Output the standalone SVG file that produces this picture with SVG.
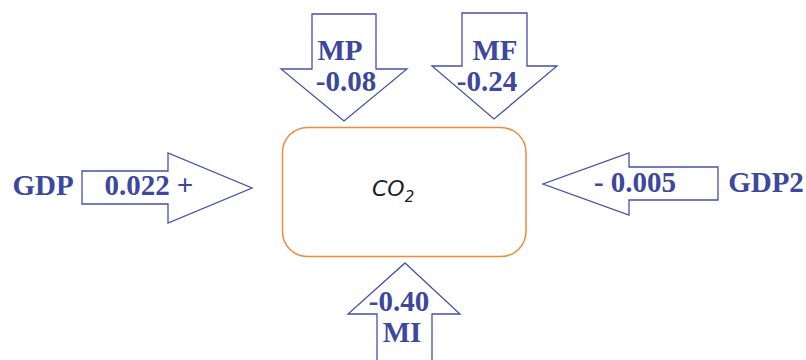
<svg xmlns="http://www.w3.org/2000/svg" width="806" height="360" viewBox="0 0 806 360">
<style>
.arr{fill:#ffffff;stroke:#4650a8;stroke-width:1.3;stroke-linejoin:miter}
.lbl{font-family:"Liberation Serif","Times New Roman",serif;font-weight:bold;font-size:29px;fill:#3c479e;text-anchor:middle}
.box{fill:#ffffff;stroke:#f08a3c;stroke-width:1.5}
.co2{font-family:"DejaVu Sans","Noto Sans",sans-serif;font-style:italic;font-size:22px;fill:#1c1c2c}
</style>
<rect width="806" height="360" fill="#ffffff"/>
<g id="connectors">
  <g id="arrow-mp">
    <polygon class="arr" points="312,14 376,14 376,69 407,69 344,121 281,69 312,69"/>
    <text class="lbl" x="340" y="60">MP</text>
    <text class="lbl" x="346" y="91">-0.08</text>
  </g>
  <g id="arrow-mf">
    <polygon class="arr" points="462,13 527,13 527,66 557,66 494,119 432,66 462,66"/>
    <text class="lbl" x="495" y="60">MF</text>
    <text class="lbl" x="487" y="91">-0.24</text>
  </g>
  <g id="arrow-gdp">
    <polygon class="arr" points="82,171 168,171 168,153 252,188 168,223 168,204 82,204"/>
    <text class="lbl" x="137" y="195">0.022</text>
    <text class="lbl" x="185" y="195">+</text>
  </g>
  <g id="arrow-gdp2">
    <polygon class="arr" points="718,167 629,167 629,153 543,184 629,215 629,200 718,200"/>
    <text class="lbl" x="635" y="192">- 0.005</text>
  </g>
  <g id="arrow-mi">
    <polygon class="arr" points="405,263 460,314 432,314 432,362 377,362 377,314 348,314"/>
    <text class="lbl" x="399" y="311">-0.40</text>
    <text class="lbl" x="402" y="342">MI</text>
  </g>
</g>
<g id="label-gdp"><text class="lbl" x="43" y="195">GDP</text></g>
<g id="label-gdp2"><text class="lbl" x="766" y="192">GDP2</text></g>
<g id="node-co2">
  <rect class="box" x="282.5" y="127.5" width="243.5" height="129" rx="25" ry="25"/>
  <text class="co2" x="372" y="196">CO<tspan font-size="15" dy="6">2</tspan></text>
</g>
</svg>
